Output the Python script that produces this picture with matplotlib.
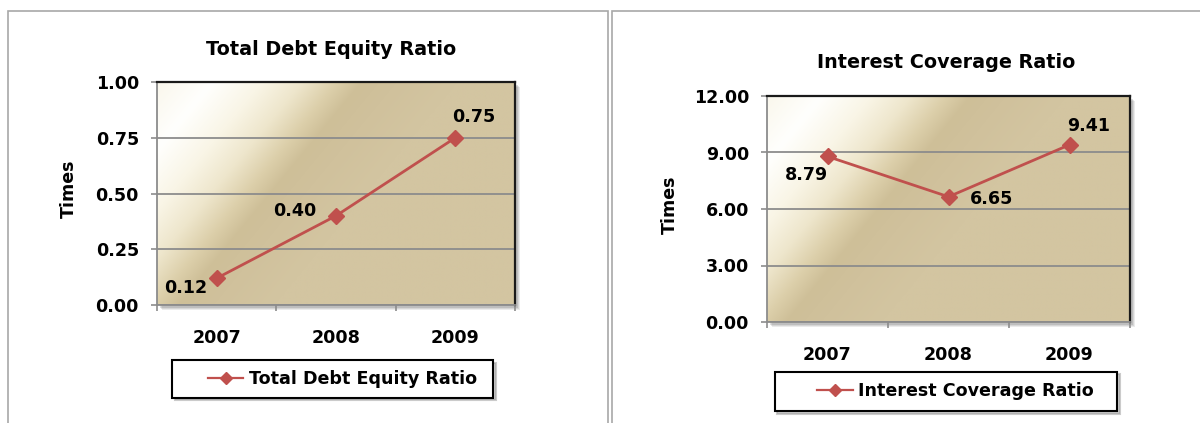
import numpy as np
import matplotlib
matplotlib.use('Agg')
import matplotlib.pyplot as plt
from matplotlib.patches import Rectangle
from matplotlib.lines import Line2D
from matplotlib.legend_handler import HandlerLine2D

# ---------------- data ----------------
years = ['2007', '2008', '2009']
debt_equity = [0.12, 0.40, 0.75]
interest_cov = [8.79, 6.65, 9.41]
de_ticks = [0.00, 0.25, 0.50, 0.75, 1.00]
ic_ticks = [0.0, 3.0, 6.0, 9.0, 12.0]
de_title = 'Total Debt Equity Ratio'
ic_title = 'Interest Coverage Ratio'
ylabel = 'Times'

plt.rcParams['font.family'] = ['DejaVu Sans']
plt.rcParams['font.weight'] = 'bold'

W, H = 1200, 423
fig = plt.figure(figsize=(12, 4.23), dpi=100)
fig.patch.set_facecolor('white')

def fx(px):
    return px / W

def fy(py):
    return 1 - py / H

LINE = '#C0504D'
FS = 12.6
EM = FS * 100 / 72.0


class ShiftedHandler(HandlerLine2D):
    def __init__(self, off, **kw):
        super().__init__(**kw)
        self.off = off

    def create_artists(self, legend, orig_handle, xdescent, ydescent, width,
                       height, fontsize, trans):
        return super().create_artists(legend, orig_handle, xdescent - self.off,
                                      ydescent, width - self.off, height,
                                      fontsize, trans)


def gradient(w_px, h_px):
    xs = np.linspace(0, w_px, 420)
    ys = np.linspace(0, h_px, 260)
    X, Y = np.meshgrid(xs, ys)
    t = X + 0.82 * Y
    st = [0, 55, 105, 145, 180, 205, 240, 300, 600]
    cols = np.array([(250, 247, 236), (255, 255, 253), (249, 245, 230),
                     (238, 230, 204), (220, 207, 170), (206, 191, 152),
                     (208, 193, 156), (211, 197, 161), (211, 197, 161)]) / 255.0
    return np.stack([np.interp(t, st, cols[:, k]) for k in range(3)], axis=-1)


def panel(frame_x, box, values, ticks, title, title_xy, offsets, ylab_x,
          leg_box, leg_off, leg_line, leg_pad, leg_sp):
    l, t, r, b = box
    # outer panel frame
    fig.add_artist(Rectangle((fx(frame_x[0]), -0.05), fx(frame_x[1] - frame_x[0]),
                             fy(11) + 0.05, transform=fig.transFigure,
                             fill=False, ec='#A8A8A8', lw=1.2, zorder=-5))
    # plot-area shadow
    for d, a in [(5, 0.12), (4, 0.15), (3, 0.2)]:
        fig.add_artist(Rectangle((fx(l + d), fy(b + d)), fx(r - l), (b - t) / H,
                                 transform=fig.transFigure, color='#606060',
                                 alpha=a, lw=0, zorder=-1))
    ax = fig.add_axes([fx(l), fy(b), fx(r - l), (b - t) / H])
    ymin, ymax = ticks[0], ticks[-1]
    x = np.arange(len(years))
    ax.imshow(gradient(r - l, b - t), extent=[-0.5, len(years) - 0.5, ymin, ymax],
              origin='upper', aspect='auto', zorder=0, interpolation='bilinear')
    ax.set_xlim(-0.5, len(years) - 0.5)
    ax.set_ylim(ymin, ymax)
    ax.plot(x, values, color=LINE, lw=2.0, marker='D', ms=8.5,
            markeredgecolor=LINE, zorder=3, clip_on=False)
    for xi, v, (dx, dy) in zip(x, values, offsets):
        ax.annotate(f'{v:.2f}', (xi, v), xytext=(dx, dy), textcoords='offset pixels',
                    ha='center', va='center', fontsize=FS, fontweight='bold',
                    zorder=4)
    ax.set_yticks(ticks)
    ax.set_yticklabels([f'{v:.2f}' for v in ticks])
    ax.set_xticks(x)
    ax.set_xticklabels(years)
    ax.set_xticks(np.arange(len(years) + 1) - 0.5, minor=True)
    ax.tick_params(axis='y', which='major', length=4, color='#8C8C8C', width=1.2,
                   pad=9, labelsize=FS)
    ax.tick_params(axis='x', which='major', length=0, pad=17.5, labelsize=FS)
    ax.tick_params(axis='x', which='minor', length=4, color='#8C8C8C', width=1.2)
    ax.yaxis.grid(True, color='#8C8C8C', lw=1.3)
    for s in ['top', 'right']:
        ax.spines[s].set_color('#1A1A1A')
        ax.spines[s].set_linewidth(1.6)
    for s in ['left', 'bottom']:
        ax.spines[s].set_color('#8C8C8C')
        ax.spines[s].set_linewidth(1.3)
    ax.set_ylabel(ylabel, fontsize=FS, fontweight='bold', ha='center', va='center')
    ax.yaxis.set_label_coords((ylab_x - l) / (r - l), 0.52)
    fig.text(fx(title_xy[0]), fy(title_xy[1]), title, ha='center', va='center',
             fontsize=13.8, fontweight='bold')
    # legend
    lx0, ly0, lx1, ly1 = leg_box
    h = Line2D([], [], color=LINE, lw=1.6, marker='D', ms=6.5,
               markeredgecolor=LINE)
    leg = ax.legend([h], [title + ' ' * leg_sp], loc='center',
                    bbox_to_anchor=(fx((lx0 + lx1) / 2), fy((ly0 + ly1) / 2)),
                    bbox_transform=fig.transFigure,
                    prop={'weight': 'bold', 'size': FS},
                    handlelength=(leg_off + leg_line) / EM, handletextpad=0.34,
                    borderpad=leg_pad,
                    fancybox=False, framealpha=1, edgecolor='black',
                    handler_map={h: ShiftedHandler(off=leg_off, numpoints=1)},
                    shadow={'color': '#999999', 'alpha': 0.5})
    leg.get_frame().set_linewidth(1.5)
    return ax


panel((8, 608), (157, 82, 515, 305), debt_equity, de_ticks, de_title, (331, 49),
      [(-31, -10), (-41, 5), (18, 21)], 68.5, (171, 361, 494, 397),
      19.0, 42.0, 0.55, 1)
panel((612, 1230), (767, 96, 1130, 322), interest_cov, ic_ticks, ic_title,
      (946, 63), [(-21, -19), (43, -2), (19, 19)], 670, (775, 372, 1117, 411),
      23.0, 44.0, 0.62, 2)

fig.savefig('out.png', dpi=100)
